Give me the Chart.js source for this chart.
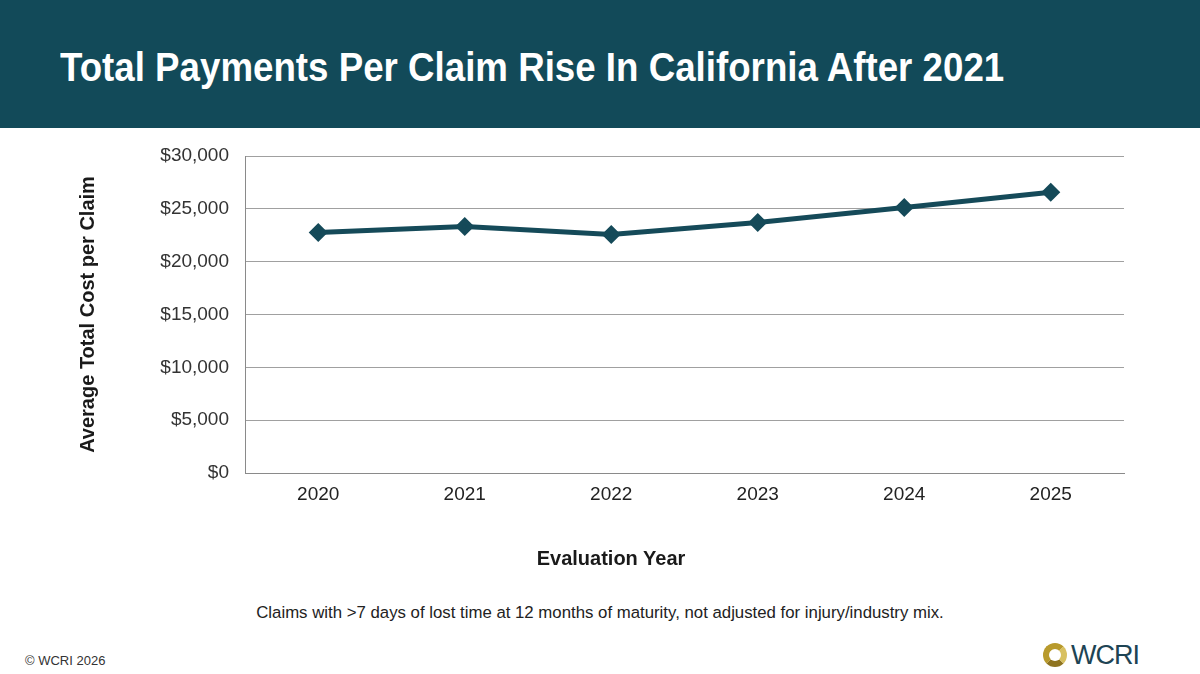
<!DOCTYPE html>
<html>
<head>
<meta charset="utf-8">
<script src="https://cdn.jsdelivr.net/npm/chart.js@4/dist/chart.umd.min.js"></script>
<style>
  html, body { margin: 0; padding: 0; }
  body { width: 1200px; height: 674px; position: relative; background: #fff; overflow: hidden;
         font-family: "Liberation Sans", Arial, sans-serif; }
  #header { position: absolute; left: 0; top: 0; width: 1200px; height: 128px; background: #124a59; }
  #title { position: absolute; left: 60px; top: 44px; color: #fff; font-weight: bold; font-size: 41px;
           white-space: nowrap; transform: scaleX(0.895); transform-origin: left top; }
  #wrap { position: absolute; left: 0; top: 128px; width: 1200px; height: 470px; }
  #xtitle { position: absolute; left: 511px; width: 200px; top: 547px; text-align: center;
            font-weight: bold; font-size: 20px; color: #1a1a1a; }
  #note { position: absolute; left: 0; width: 1200px; top: 603px; text-align: center;
          font-size: 16.8px; color: #222; }
  #copy { position: absolute; left: 25px; top: 653px; font-size: 13px; color: #333; }
  #logo { position: absolute; left: 1043px; top: 640px; height: 30px; display: flex; align-items: center; }
  #ring { width: 24px; height: 24px; border-radius: 50%; box-sizing: border-box;
          border: 6px solid #b89a2c; border-right-color: #d8c060; border-bottom-color: #8f7420; margin-right: 4px; }
  #logo span { font-size: 27px; color: #1e4454; letter-spacing: -1px; }
</style>
</head>
<body>
<div id="header"><div id="title">Total Payments Per Claim Rise In California After 2021</div></div>
<div id="wrap"><canvas id="chart"></canvas></div>
<div id="xtitle">Evaluation Year</div>
<div id="note">Claims with &gt;7 days of lost time at 12 months of maturity, not adjusted for injury/industry mix.</div>
<div id="copy">© WCRI 2026</div>
<div id="logo"><div id="ring"></div><span>WCRI</span></div>
<script>
const years = ["2020", "2021", "2022", "2023", "2024", "2025"];
const avgCost = [22760, 23330, 22570, 23710, 25120, 26570];
const yTicks = [0, 5000, 10000, 15000, 20000, 25000, 30000];

const teal = "#154a59";
const ctx = document.getElementById("chart").getContext("2d");

new Chart(ctx, {
  type: "line",
  data: {
    labels: years,
    datasets: [
      {
        label: "Average Total Cost per Claim",
        data: avgCost,
        borderColor: teal,
        backgroundColor: teal,
        borderWidth: 5,
        pointStyle: "rectRot",
        pointRadius: 6,
        pointHoverRadius: 6,
        tension: 0,
        fill: false,
      },
    ],
  },
  options: {
    responsive: true,
    maintainAspectRatio: false,
    animation: false,
    layout: { padding: { left: 70, right: 76, top: 28, bottom: 0 } },
    plugins: { legend: { display: false }, tooltip: { enabled: false } },
    scales: {
      x: {
        offset: true,
        grid: { display: false, drawTicks: false },
        border: { display: true, color: "#8a8a8a", width: 1 },
        ticks: { padding: 10, color: "#222", font: { family: "Liberation Sans", size: 19 } },
        afterFit: (scale) => { scale.height = 125; },
      },
      y: {
        min: 0,
        max: 30000,
        afterBuildTicks: (scale) => { scale.ticks = yTicks.map((v) => ({ value: v })); },
        grid: { color: "#a0a0a0", lineWidth: 1, drawTicks: false },
        border: { display: true, color: "#8a8a8a", width: 1 },
        ticks: {
          padding: 16,
          color: "#333",
          font: { family: "Liberation Sans", size: 19 },
          callback: (v) => "$" + Number(v).toLocaleString("en-US"),
        },
        title: {
          display: true,
          text: "Average Total Cost per Claim",
          color: "#1a1a1a",
          padding: { top: 6, bottom: 0 },
          font: { family: "Liberation Sans", size: 20, weight: "bold" },
        },
        afterFit: (scale) => { scale.width = 175; },
      },
    },
  },
});
</script>
</body>
</html>
